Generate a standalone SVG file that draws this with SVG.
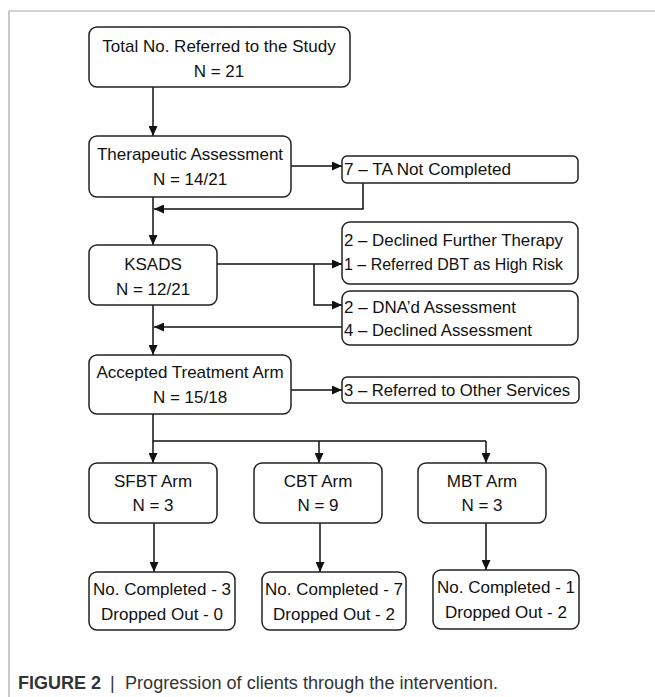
<svg xmlns="http://www.w3.org/2000/svg" width="655" height="697" viewBox="0 0 655 697">
<style>
.box{fill:#fff;stroke:#222;stroke-width:1.5}
.t{font-family:"Liberation Sans",Arial,sans-serif;font-size:17px;fill:#111}
.c{text-anchor:middle}
.con{fill:none;stroke:#111;stroke-width:1.5}
.frame{stroke:#a8a8a8;stroke-width:1.2;fill:none}
.cap{font-family:"Liberation Sans",Arial,sans-serif;font-size:18px;fill:#333}
</style>
<defs>
<marker id="ah" markerUnits="userSpaceOnUse" markerWidth="10" markerHeight="9" refX="10" refY="4.5" orient="auto">
<path d="M0,0 L10,4.5 L0,9 z" fill="#111"/>
</marker>
</defs>
<rect width="655" height="697" fill="#fff"/>
<path class="frame" d="M9,697 V11 H655"/>

<g id="connectors">
<path class="con" d="M153,87 V136" marker-end="url(#ah)"/>
<path class="con" d="M291,166 H342" marker-end="url(#ah)"/>
<path class="con" d="M363,183 V209 H154" marker-end="url(#ah)"/>
<path class="con" d="M153,197 V245" marker-end="url(#ah)"/>
<path class="con" d="M217,264 H342" marker-end="url(#ah)"/>
<path class="con" d="M314,264 V305 H342" marker-end="url(#ah)"/>
<path class="con" d="M342,327 H154" marker-end="url(#ah)"/>
<path class="con" d="M153,305 V355" marker-end="url(#ah)"/>
<path class="con" d="M291,390 H342" marker-end="url(#ah)"/>
<path class="con" d="M153,414 V441 H486"/>
<path class="con" d="M153,441 V463" marker-end="url(#ah)"/>
<path class="con" d="M319,441 V463" marker-end="url(#ah)"/>
<path class="con" d="M486,441 V463" marker-end="url(#ah)"/>
<path class="con" d="M154,523 V572" marker-end="url(#ah)"/>
<path class="con" d="M320,523 V572" marker-end="url(#ah)"/>
<path class="con" d="M486,523 V570" marker-end="url(#ah)"/>
</g>

<g id="total">
<rect class="box" x="89" y="27" width="261" height="60" rx="8"/>
<text class="t c" x="219" y="52">Total No. Referred to the Study</text>
<text class="t c" x="219" y="77">N = 21</text>
</g>
<g id="therapeutic">
<rect class="box" x="89" y="136" width="202" height="61" rx="8"/>
<text class="t c" x="190" y="160">Therapeutic Assessment</text>
<text class="t c" x="190" y="185">N = 14/21</text>
</g>
<g id="ta-not-completed">
<rect class="box" x="342" y="156" width="236" height="27" rx="5"/>
<text class="t" x="344" y="175" textLength="167" lengthAdjust="spacingAndGlyphs">7 – TA Not Completed</text>
</g>
<g id="ksads">
<rect class="box" x="89" y="245" width="128" height="60" rx="8"/>
<text class="t c" x="153" y="270">KSADS</text>
<text class="t c" x="153" y="295">N = 12/21</text>
</g>
<g id="declined-therapy">
<rect class="box" x="342" y="222" width="236" height="62" rx="8"/>
<text class="t" x="344" y="246" textLength="219" lengthAdjust="spacingAndGlyphs">2 – Declined Further Therapy</text>
<text class="t" x="344" y="270" textLength="219" lengthAdjust="spacingAndGlyphs">1 – Referred DBT as High Risk</text>
</g>
<g id="declined-assessment">
<rect class="box" x="342" y="291" width="236" height="54" rx="8"/>
<text class="t" x="344" y="313" textLength="172" lengthAdjust="spacingAndGlyphs">2 – DNA’d Assessment</text>
<text class="t" x="344" y="336" textLength="188" lengthAdjust="spacingAndGlyphs">4 – Declined Assessment</text>
</g>
<g id="accepted">
<rect class="box" x="89" y="355" width="202" height="59" rx="8"/>
<text class="t c" x="190" y="378">Accepted Treatment Arm</text>
<text class="t c" x="190" y="403">N = 15/18</text>
</g>
<g id="other-services">
<rect class="box" x="342" y="377" width="237" height="26" rx="5"/>
<text class="t" x="344" y="396" textLength="226" lengthAdjust="spacingAndGlyphs">3 – Referred to Other Services</text>
</g>
<g id="sfbt">
<rect class="box" x="89" y="463" width="128" height="60" rx="8"/>
<text class="t c" x="153" y="487">SFBT Arm</text>
<text class="t c" x="153" y="511">N = 3</text>
</g>
<g id="cbt">
<rect class="box" x="254" y="463" width="128" height="60" rx="8"/>
<text class="t c" x="318" y="487">CBT Arm</text>
<text class="t c" x="318" y="511">N = 9</text>
</g>
<g id="mbt">
<rect class="box" x="418" y="463" width="128" height="60" rx="8"/>
<text class="t c" x="482" y="487">MBT Arm</text>
<text class="t c" x="482" y="511">N = 3</text>
</g>
<g id="sfbt-result">
<rect class="box" x="89" y="572" width="146" height="58" rx="8"/>
<text class="t c" x="162" y="595">No. Completed - 3</text>
<text class="t c" x="162" y="620">Dropped Out - 0</text>
</g>
<g id="cbt-result">
<rect class="box" x="262" y="572" width="144" height="58" rx="8"/>
<text class="t c" x="334" y="595">No. Completed - 7</text>
<text class="t c" x="334" y="620">Dropped Out - 2</text>
</g>
<g id="mbt-result">
<rect class="box" x="433" y="570" width="146" height="59" rx="8"/>
<text class="t c" x="506" y="593">No. Completed - 1</text>
<text class="t c" x="506" y="618">Dropped Out - 2</text>
</g>

<g id="caption">
<text class="cap" x="18" y="689" font-weight="bold" fill="#222">FIGURE 2</text>
<text class="cap" x="110" y="689">|</text>
<text class="cap" x="125" y="689" textLength="373" lengthAdjust="spacingAndGlyphs">Progression of clients through the intervention.</text>
</g>
</svg>
